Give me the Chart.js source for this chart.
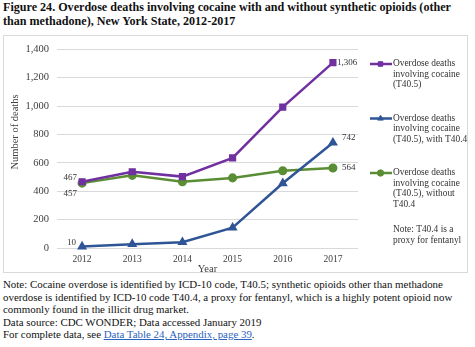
<!DOCTYPE html>
<html>
<head>
<meta charset="utf-8">
<script src="https://cdn.jsdelivr.net/npm/chart.js@4/dist/chart.umd.min.js"></script>
<style>
  html, body { margin: 0; padding: 0; background: #fff; }
  body { width: 475px; height: 347px; position: relative; overflow: hidden; font-family: "Liberation Serif", "Times New Roman", serif; color: #111; }
  #title { position: absolute; left: 3px; top: 0px; font-weight: bold; font-size: 12.1px; line-height: 14px; width: 472px; }
  #frame { position: absolute; left: 3px; top: 35px; width: 463px; height: 236px; border: 1px solid #d9d9d9; }
  #chart { position: absolute; left: 3px; top: 35px; }
  #foot { position: absolute; left: 3px; top: 278px; font-size: 10.9px; line-height: 12.5px; width: 472px; }
  #foot a { color: #2a62c0; text-decoration: underline; }
</style>
</head>
<body>
<div id="title">Figure 24. Overdose deaths involving cocaine with and without synthetic opioids (other than methadone), New York State, 2012-2017</div>
<div id="frame"></div>
<canvas id="chart" width="465" height="241"></canvas>
<div id="foot">Note: Cocaine overdose is identified by ICD-10 code, T40.5; synthetic opioids other than methadone overdose is identified by ICD-10 code T40.4, a proxy for fentanyl, which is a highly potent opioid now commonly found in the illicit drug market.<br>Data source: CDC WONDER; Data accessed January 2019<br>For complete data, see <a href="#">Data Table 24, Appendix, page 39</a>.</div>
<script>
const years = ["2012", "2013", "2014", "2015", "2016", "2017"];
const cocaineAll = [467, 537, 503, 635, 993, 1306];
const cocaineWithT404 = [10, 27, 41, 143, 456, 742];
const cocaineWithoutT404 = [457, 512, 467, 494, 544, 564];
const seriesNames = [
  ["Overdose deaths", "involving cocaine", "(T40.5)"],
  ["Overdose deaths", "involving cocaine", "(T40.5), with T40.4"],
  ["Overdose deaths", "involving cocaine", "(T40.5), without", "T40.4"]
];
const legendNote = ["Note: T40.4 is a", "proxy for fentanyl"];
const yTicks = [0, 200, 400, 600, 800, 1000, 1200, 1400];
const yTitle = "Number of deaths";

const SERIF = '"Liberation Serif", "Times New Roman", serif';
const colors = ["#7030a0", "#2f5597", "#5b8e34"];
const shapes = ["rect", "triangle", "circle"];

// label placement per dataset: [first-point, last-point] as [dx, dy, align]
const labelPlace = [
  [[-5, -4, "right"], [4, 0, "left"]],
  [[-6, -4, "right"], [9, -5, "left"]],
  [[-5, 11, "right"], [9, 0, "left"]]
];

const labelPlugin = {
  id: "labels",
  afterDatasetsDraw(chart) {
    const ctx = chart.ctx;
    ctx.save();
    ctx.font = "9px " + SERIF;
    ctx.fillStyle = "#333";
    ctx.textBaseline = "middle";
    chart.data.datasets.forEach((ds, i) => {
      const meta = chart.getDatasetMeta(i);
      const idx = [0, ds.data.length - 1];
      idx.forEach((k, j) => {
        const p = meta.data[k];
        const pl = labelPlace[i][j];
        ctx.textAlign = pl[2];
        ctx.fillText(ds.data[k].toLocaleString("en-US"), p.x + pl[0], p.y + pl[1]);
      });
    });
    ctx.restore();
  }
};

const legendPlugin = {
  id: "sideLegend",
  afterDraw(chart) {
    const ctx = chart.ctx;
    ctx.save();
    // y-axis title
    ctx.font = "10.5px " + SERIF;
    ctx.fillStyle = "#404040";
    ctx.textAlign = "center";
    ctx.textBaseline = "middle";
    ctx.translate(12, 97);
    ctx.rotate(-Math.PI / 2);
    ctx.fillText(yTitle, 0, 0);
    ctx.setTransform(1, 0, 0, 1, 0, 0);

    ctx.font = "9.4px " + SERIF;
    ctx.fillStyle = "#333";
    ctx.textBaseline = "middle";
    ctx.textAlign = "left";
    const starts = [29, 83.5, 138];
    const lh = 10.4;
    chart.data.datasets.forEach((ds, i) => {
      const y = starts[i];
      ctx.strokeStyle = ds.borderColor;
      ctx.lineWidth = 2.5;
      ctx.beginPath();
      ctx.moveTo(367, y);
      ctx.lineTo(389, y);
      ctx.stroke();
      ctx.fillStyle = ds.borderColor;
      ctx.strokeStyle = ds.borderColor;
      ctx.lineWidth = 1;
      Chart.helpers.drawPoint(ctx, { pointStyle: ds.pointStyle, radius: 3.2, borderWidth: 1 }, 377.5, y);
      ctx.fillStyle = "#333";
      seriesNames[i].forEach((t, k) => ctx.fillText(t, 390, y + k * lh));
    });
    legendNote.forEach((t, k) => ctx.fillText(t, 390, 195 + k * lh));
    ctx.restore();
  }
};

const seriesData = [cocaineAll, cocaineWithT404, cocaineWithoutT404];

new Chart(document.getElementById("chart"), {
  type: "line",
  data: {
    labels: years,
    datasets: seriesData.map((d, i) => ({
      label: seriesNames[i].join(" "),
      data: d,
      borderColor: colors[i],
      backgroundColor: colors[i],
      pointBackgroundColor: colors[i],
      pointBorderColor: colors[i],
      borderWidth: 2.5,
      pointStyle: shapes[i],
      pointRadius: 3.3,
      tension: 0,
      clip: false
    }))
  },
  options: {
    responsive: false,
    devicePixelRatio: 1,
    animation: false,
    layout: { padding: { left: 0, right: 110, top: 7, bottom: 0 } },
    plugins: { legend: { display: false }, tooltip: { enabled: false } },
    scales: {
      x: {
        offset: true,
        grid: { display: false, drawTicks: false },
        border: { display: false },
        ticks: { font: { family: SERIF, size: 9.5 }, color: "#404040", padding: 6 },
        title: { display: true, text: "Year", font: { family: SERIF, size: 10.5 }, color: "#404040", padding: 0 },
        afterFit(s) { s.height = 28; }
      },
      y: {
        min: 0, max: 1400,
        afterBuildTicks(s) { s.ticks = yTicks.map(v => ({ value: v })); },
        grid: { color: "#d9d9d9", drawTicks: false },
        border: { display: false },
        ticks: { font: { family: SERIF, size: 10.5 }, color: "#404040", padding: 8,
                 callback: v => v.toLocaleString("en-US") },
        title: { display: false },
        afterFit(s) { s.width = 54; }
      }
    }
  },
  plugins: [labelPlugin, legendPlugin]
});
</script>
</body>
</html>
